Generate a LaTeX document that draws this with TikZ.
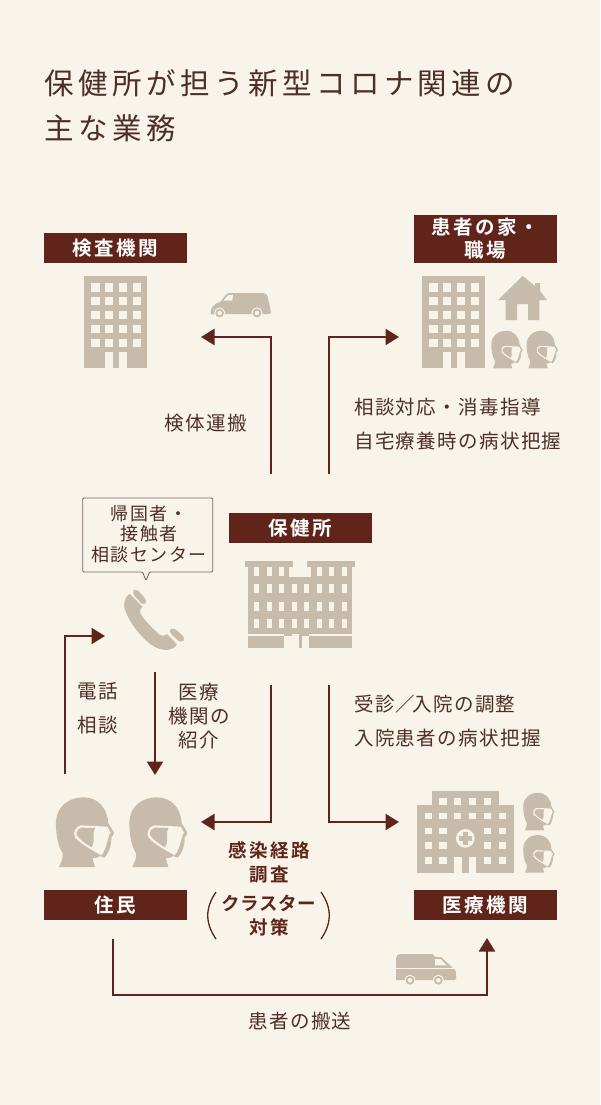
\documentclass[tikz,border=0pt]{standalone}
\usepackage{fontspec}
\setmainfont{Noto Sans CJK JP}
\newfontfamily\ttlfont[LetterSpace=15.2]{Noto Sans CJK JP}
\newfontfamily\bodyfont[LetterSpace=7]{Noto Sans CJK JP}
\newfontfamily\smallfont[LetterSpace=8]{Noto Sans CJK JP}
\newfontfamily\boxfont[LetterSpace=13]{Noto Sans CJK JP Bold}
\newfontfamily\boldfontx[LetterSpace=14]{Noto Sans CJK JP Bold}
\newfontfamily\tightfontx[LetterSpace=3]{Noto Sans CJK JP Bold}
\usetikzlibrary{arrows.meta}
\definecolor{bgc}{HTML}{F8F4E9}
\definecolor{tan}{HTML}{C7BBAB}
\definecolor{darkred}{HTML}{61241A}
\definecolor{inkc}{HTML}{4F2E26}
\tikzset{
  labelbox/.style={fill=darkred,text=white,minimum width=143pt,minimum height=30pt,inner sep=0pt,align=center,font=\boxfont\fontsize{19.5}{23}\selectfont},
  bodytext/.style={text=inkc,inner sep=0pt,align=center,font=\bodyfont\fontsize{19.5}{24}\selectfont},
  bodyleft/.style={bodytext,anchor=west},
  titletext/.style={text=inkc,inner sep=0pt,anchor=west,font=\ttlfont\fontsize{29.5}{34}\selectfont},
  boldtext/.style={text=darkred,inner sep=0pt,align=center,font=\boldfontx\fontsize{18.5}{24}\selectfont},
  bubbletext/.style={text=inkc,inner sep=0pt,align=center,font=\smallfont\fontsize{18}{20.5}\selectfont},
  connector/.style={draw=darkred,line width=2.4pt,-{Triangle[length=13.5pt,width=16pt]}},
  zoomed/.style={x=0.3333pt,y=-0.3333pt}
}
\newcommand{\officeblock}[2]{%
  \begin{scope}[shift={(#1,#2)}]
    \fill[tan] (0,0) rectangle (63,92);
    \foreach \r in {0,...,4}{\foreach \c in {0,...,3}{
      \fill[bgc] ({7.3+13.75*\c},{7.3+13.8*\r}) rectangle ++(8.3,8.3);}}
    \fill[bgc] (21,76) rectangle (28.7,92);
    \fill[bgc] (35,76) rectangle (43,92);
  \end{scope}}
\newcommand{\maskhead}[3]{%
  \begin{scope}[shift={(#1,#2)},x=#3*0.3333pt,y=-#3*0.3333pt]
    \fill[tan] (27,231) .. controls (34,215) and (40,205) .. (38,190)
      .. controls (22,165) and (17,125) .. (18,95)
      .. controls (20,50) and (55,22) .. (100,22)
      .. controls (145,22) and (172,55) .. (175,100)
      -- (192,128) .. controls (192,135) and (186,138) .. (184,142)
      .. controls (184,170) and (175,190) .. (163,203)
      -- (150,198) .. controls (140,205) and (130,205) .. (127,205)
      -- (135,231) -- cycle;
    \fill[bgc] (172,110) -- (182,128) .. controls (172,140) and (172,175) .. (154,196)
      .. controls (130,182) and (95,165) .. (75,142)
      .. controls (68,130) and (75,110) .. (92,106) -- cycle;
    \fill[tan] (80,135) .. controls (78,125) and (85,115) .. (95,113)
      -- (135,114) .. controls (125,130) and (138,150) .. (125,172)
      .. controls (108,162) and (90,150) .. (80,135) -- cycle;
  \end{scope}}
\newcommand{\wheelring}[2]{%
  \fill[bgc] (#1,#2) circle[radius=5.6pt];
  \fill[tan] (#1,#2) circle[radius=4.4pt];
  \fill[bgc] (#1,#2) circle[radius=2.3pt];}
\begin{document}
\begin{tikzpicture}[x=1pt,y=-1pt]
\useasboundingbox (0,0) rectangle (600,1105);
\fill[bgc] (0,0) rectangle (600,1105);
% title
\node[titletext] (title1) at (44,83) {保健所が担う新型コロナ関連の};
\node[titletext] (title2) at (44,128) {主な業務};
% label boxes
\node[labelbox] (kensa) at (115.5,248) {検査機関};
\node[labelbox,minimum height=48pt] (kanja) at (485,239) {患者の家・\\職場};
\node[labelbox] (hokenjo) at (300,528) {保健所};
\node[labelbox] (jumin) at (115.5,905) {住民};
\node[labelbox] (iryo) at (485,905) {医療機関};
% buildings
\officeblock{84}{276}
\officeblock{422}{276}
% house
\fill[tan] (522.7,276) -- (535,286) -- (535,283) -- (540,283) -- (540,291) -- (547,300) -- (539.3,300)
  -- (539.3,320) -- (528,320) -- (528,304) -- (517,304) -- (517,320) -- (505.7,320) -- (505.7,300) -- (498,300) -- cycle;
% heads
\maskhead{488.1}{326.8}{0.54}
\maskhead{523.4}{326.8}{0.54}
\maskhead{50}{790}{1}
\maskhead{123.4}{790}{1}
\maskhead{520}{788.8}{0.54}
\maskhead{520}{831.1}{0.54}
% van
\begin{scope}[shift={(205,285)},zoomed]
  \fill[tan] (17,84) -- (20,68) .. controls (30,55) and (42,52) .. (47,50) -- (62,30) .. controls (66,25) and (70,24) .. (75,24)
    -- (175,24) .. controls (183,24) and (187,30) .. (189,40) -- (196,72) -- (198,84) -- (190,87) -- (17,88) -- cycle;
  \fill[bgc] (55,47) -- (69,31) -- (84,29) -- (82,47) -- cycle;
  \wheelring{44}{84}
  \wheelring{156}{84}
\end{scope}
% ambulance
\begin{scope}[shift={(390,948)},zoomed]
  \fill[tan] (18,96) -- (18,34) .. controls (20,24) and (22,18) .. (30,18) -- (128,18) -- (134,26) -- (155,28)
    -- (190,62) -- (197,68) -- (199,90) -- (194,96) -- cycle;
  \fill[bgc] (135,33) -- (152,33) -- (170,52) -- (135,52) -- cycle;
  \fill[bgc] (18,60.5) rectangle (196,64);
  \wheelring{60}{97}
  \wheelring{145}{97}
\end{scope}
% phone
\begin{scope}[shift={(115,580)},zoomed]
  \fill[tan,rounded corners=4pt] (50,38) -- (62,24) -- (97,62) -- (86,78) -- cycle;
  \fill[tan] (44,41) .. controls (30,52) and (26,68) .. (28,82)
     .. controls (40,130) and (95,195) .. (132,206)
     .. controls (150,212) and (172,214) .. (186,193)
     -- (156,162) .. controls (148,168) and (138,170) .. (132,163)
     .. controls (110,142) and (85,118) .. (75,98)
     .. controls (73,90) and (78,85) .. (83,80) -- cycle;
  \fill[tan,rounded corners=4pt] (160,154) -- (174,141) -- (212,175) -- (198,190) -- cycle;
\end{scope}
% government building
\begin{scope}[shift={(70,490)},zoomed]
  \fill[tan] (525,213) rectangle (668,232);
  \fill[tan] (712,213) rectangle (855,232);
  \fill[tan] (535,232) rectangle (658,431);
  \fill[tan] (722,232) rectangle (845,431);
  \fill[tan] (658,262) rectangle (722,431);
  \fill[tan] (533,437) rectangle (642,475);
  \fill[tan] (717,437) rectangle (845,475);
  \fill[tan] (642,431) rectangle (665,437);
  \fill[tan] (696,431) rectangle (717,437);
  \fill[tan] (686,431) rectangle (696,475);
  \fill[bgc] (665,431) rectangle (686,436);
  \foreach \cx in {552,590,627,740,777,815}{\fill[bgc] (\cx,232) rectangle ++(15,27);}
  \foreach \ry in {283,335,388}{\foreach \cx in {552,590,627,665,702,740,777,815}{
     \fill[bgc] (\cx,\ry) rectangle ++(15,27);}}
\end{scope}
% hospital
\begin{scope}[shift={(380,780)},zoomed]
  \fill[tan] (155,33) rectangle (357,75);
  \fill[tan] (112,75) rectangle (401,279);
  \foreach \cx in {178,222,267,311}{\fill[bgc] (\cx,54) rectangle ++(22,20);}
  \foreach \cx in {134,178,222,267,311,356}{\fill[bgc] (\cx,98) rectangle ++(22,20);}
  \foreach \ry in {143,187,231}{\foreach \cx in {134,178,311,356}{\fill[bgc] (\cx,\ry) rectangle ++(22,20);}}
  \fill[bgc] (256,175) circle[radius=9.3pt];
  \fill[tan] (249,155) rectangle (263,195);
  \fill[tan] (236,168) rectangle (276,182);
  \fill[bgc] (222,230) rectangle (245,279);
  \fill[bgc] (267,230) rectangle (289,279);
\end{scope}
% bubble
\draw[draw=inkc!75,line width=0.9pt,fill=bgc,line join=round,rounded corners=1pt]
  (82.7,498) -- (212.7,498) -- (212.7,572) -- (149.6,572) -- (146,580.5) -- (142.6,572) -- (82.7,572) -- cycle;
\node[bubbletext] (bubble) at (149,534) {帰国者・\\接触者\\相談センター};
% texts
\node[bodytext] (kentai) at (206,423) {検体運搬};
\node[bodyleft] (soudan) at (354,407) {相談対応・消毒指導};
\node[bodyleft] (jitaku) at (354,441) {自宅療養時の病状把握};
\node[bodytext,font=\bodyfont\fontsize{19.5}{34}\selectfont] (denwa) at (98,708) {電話\\相談};
\node[bodytext] (shokai) at (199,716) {医療\\機関の\\紹介};
\node[bodyleft] (jushin) at (354,704) {受診／\kern-3pt入院の調整};
\node[bodyleft] (nyuin) at (354,738) {入院患者の病状把握};
\node[boldtext] (kansen) at (269,862) {感染経路\\調査};
\node[boldtext,font=\tightfontx\fontsize{18.5}{24}\selectfont] (cluster) at (269,903) {クラスター};
\node[boldtext] (taisaku) at (269,927) {対策};
\node[bodytext] (hanso) at (300,1021) {患者の搬送};
% parentheses
\coordinate (pl1) at (216,892); \coordinate (pl2) at (216,939);
\coordinate (pr1) at (321,892); \coordinate (pr2) at (321,939);
\draw[darkred,line width=1.3pt] (pl1) .. controls (205,908) and (205,923) .. (pl2);
\draw[darkred,line width=1.3pt] (pr1) .. controls (332,908) and (332,923) .. (pr2);
% connectors
\coordinate (a1s) at (271,474); \coordinate (a1e) at (201,337);
\coordinate (a2s) at (329,474); \coordinate (a2e) at (399,337);
\coordinate (a3s) at (65,774);  \coordinate (a3e) at (105,636);
\coordinate (a4s) at (155,672); \coordinate (a4e) at (155,775);
\coordinate (a5s) at (271,685); \coordinate (a5e) at (201,822);
\coordinate (a6s) at (329,685); \coordinate (a6e) at (399,822);
\coordinate (a7s) at (113,939); \coordinate (a7m) at (300,995); \coordinate (a7e) at (487,938);
\draw[connector] (a1s) |- (a1e);
\draw[connector] (a2s) |- (a2e);
\draw[connector] (a3s) |- (a3e);
\draw[connector] (a4s) -- (a4e);
\draw[connector] (a5s) |- (a5e);
\draw[connector] (a6s) |- (a6e);
\draw[connector] (a7s) |- (a7m) -| (a7e);
\end{tikzpicture}
\end{document}
